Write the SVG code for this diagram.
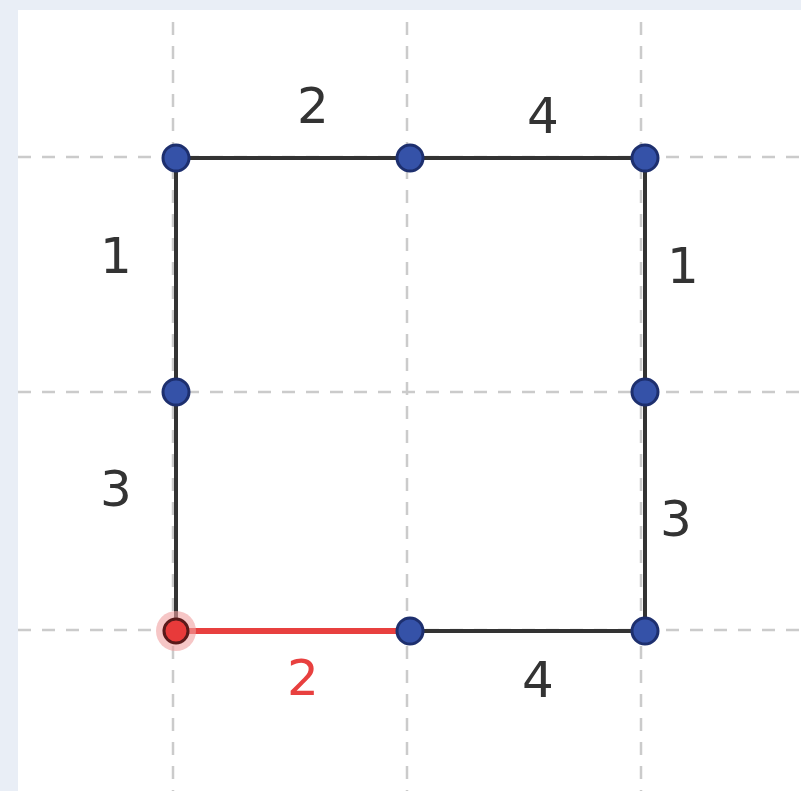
<svg xmlns="http://www.w3.org/2000/svg" width="801" height="791" viewBox="0 0 801 791">
<style>
.grid{stroke:#cbcbcb;stroke-width:2.5;stroke-dasharray:13 11;fill:none}
.edge{stroke:#333;stroke-width:4;fill:none}
.sel{stroke:#e8403f;stroke-width:6;fill:none}
.node{fill:#3552a8;stroke:#1d2f6e;stroke-width:3}
.lbl{font-family:"DejaVu Sans",sans-serif;font-size:50px;fill:#333;text-anchor:middle;dominant-baseline:central}
.red{fill:#e8403f}
</style>
<rect x="0" y="0" width="801" height="791" fill="#e9eef6"/>
<rect x="18" y="10" width="783" height="781" fill="#ffffff"/>
<g id="grid">
<line class="grid" x1="173" y1="22" x2="173" y2="791"/>
<line class="grid" x1="407" y1="22" x2="407" y2="791"/>
<line class="grid" x1="641" y1="22" x2="641" y2="791"/>
<line class="grid" x1="18" y1="157" x2="801" y2="157"/>
<line class="grid" x1="18" y1="392" x2="801" y2="392"/>
<line class="grid" x1="18" y1="630" x2="801" y2="630"/>
</g>
<g id="connectors">
<line class="edge" x1="176" y1="158" x2="410" y2="158"/>
<line class="edge" x1="410" y1="158" x2="645" y2="158"/>
<line class="edge" x1="176" y1="158" x2="176" y2="392"/>
<line class="edge" x1="176" y1="392" x2="176" y2="631"/>
<line class="edge" x1="645" y1="158" x2="645" y2="392"/>
<line class="edge" x1="645" y1="392" x2="645" y2="631"/>
<line class="edge" x1="410" y1="631" x2="645" y2="631"/>
<line class="sel" x1="176" y1="631" x2="410" y2="631"/>
</g>
<g id="labels">
<text class="lbl" x="313" y="106">2</text>
<text class="lbl" x="543" y="116">4</text>
<text class="lbl" x="116" y="256">1</text>
<text class="lbl" x="683" y="266">1</text>
<text class="lbl" x="116" y="489">3</text>
<text class="lbl" x="676" y="519">3</text>
<text class="lbl red" x="303" y="678">2</text>
<text class="lbl" x="538" y="680">4</text>
</g>
<g id="n1"><circle class="node" cx="176" cy="158" r="13"/></g>
<g id="n2"><circle class="node" cx="410" cy="158" r="13"/></g>
<g id="n3"><circle class="node" cx="645" cy="158" r="13"/></g>
<g id="n4"><circle class="node" cx="176" cy="392" r="13"/></g>
<g id="n5"><circle class="node" cx="645" cy="392" r="13"/></g>
<g id="n6"><circle class="node" cx="410" cy="631" r="13"/></g>
<g id="n7"><circle class="node" cx="645" cy="631" r="13"/></g>
<g id="n8">
<circle cx="176" cy="631" r="20" fill="#f0a0a0" opacity="0.6"/>
<circle cx="176" cy="631" r="12" fill="#e83a3a" stroke="#5a1a1a" stroke-width="3"/>
</g>
</svg>
